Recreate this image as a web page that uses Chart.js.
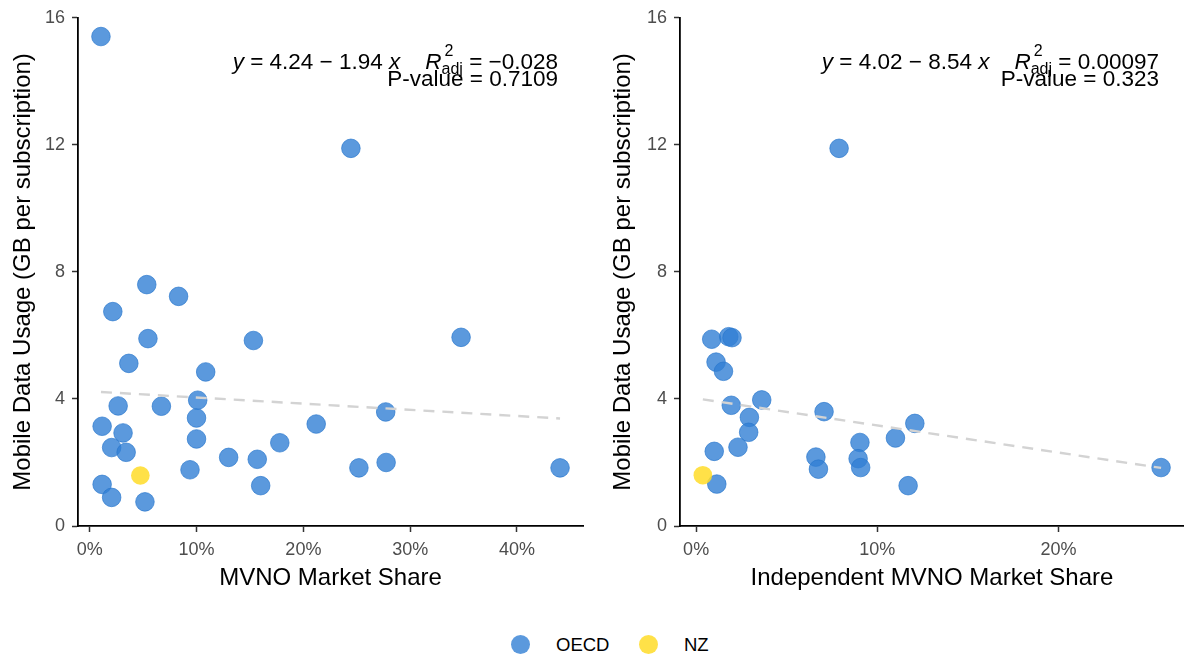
<!DOCTYPE html>
<html>
<head>
<meta charset="utf-8">
<script src="https://cdn.jsdelivr.net/npm/chart.js@4"></script>
<style>
    body { margin: 0; background: #fff; font-family: "Liberation Sans", Arial, sans-serif; }
    #wrap { position: relative; width: 1184px; height: 657px; overflow: hidden; }
    #panelLeft { position: absolute; left: 0; top: 0; }
    #panelRight { position: absolute; left: 600px; top: 0; }
    .legend { position: absolute; top: 633px; left: 0; width: 1184px; height: 24px; }
    .legend .dot { position: absolute; top: 2px; width: 19px; height: 19px; border-radius: 50%; }
    .legend .label { position: absolute; top: 1px; font-size: 18.5px; color: #000; line-height: 22px; }
</style>
</head>
<body>
<div id="wrap">
    <canvas id="panelLeft" width="600" height="600"></canvas>
    <canvas id="panelRight" width="594" height="600"></canvas>
    <div class="legend">
        <span class="dot" style="left:511px; background:rgba(50,128,212,0.8);"></span>
        <span class="label" style="left:556px;">OECD</span>
        <span class="dot" style="left:639px; background:rgba(255,220,40,0.85);"></span>
        <span class="label" style="left:684px;">NZ</span>
    </div>
</div>
<script>
// MVNO market share (%) vs mobile data usage (GB per subscription)
const mvnoShare = [1.04, 24.45, 5.33, 8.31, 2.15, 5.44, 15.32, 34.77, 3.65, 10.85,
    10.10, 2.65, 6.70, 9.99, 27.71, 1.15, 3.11, 21.2, 9.99, 17.79,
    2.04, 3.40, 13.0, 15.68, 27.75, 25.2, 44.04, 9.38, 1.15, 16.0,
    2.04, 5.16];
const mvnoUsage = [15.41, 11.89, 7.60, 7.23, 6.75, 5.90, 5.84, 5.94, 5.12, 4.85,
    3.96, 3.78, 3.77, 3.40, 3.59, 3.14, 2.93, 3.21, 2.74, 2.62,
    2.47, 2.32, 2.16, 2.10, 2.00, 1.83, 1.83, 1.77, 1.31, 1.27,
    0.90, 0.76];

// independent MVNO market share (%) vs usage
const indepShare = [7.89, 0.86, 1.80, 1.98, 1.10, 1.51, 1.94, 3.62, 7.06, 2.94,
    2.90, 12.07, 1.00, 2.31, 9.04, 11.0, 6.61, 6.75, 8.94, 9.08,
    11.70, 1.14, 25.66];
const indepUsage = [11.89, 5.88, 5.96, 5.93, 5.16, 4.87, 3.80, 3.97, 3.60, 3.42,
    2.95, 3.23, 2.35, 2.48, 2.63, 2.77, 2.17, 1.79, 2.12, 1.84,
    1.27, 1.32, 1.84];

// New Zealand
const nzShare = [4.73, 0.37];
const nzUsage = [1.59, 1.60];

// fitted lines (x as a fraction)
const fitIntercept = [4.24, 4.02];
const fitSlope = [-1.94, -8.54];
const fitIntercepText = ['4.24', '4.02'];
const fitSlopeText = ['1.94', '8.54'];
const r2adjText = ['\u22120.028', '0.00097'];
const pValueText = ['0.7109', '0.323'];

const xTickLabels = [[0, 10, 20, 30, 40], [0, 10, 20]];
const yTickLabels = [0, 4, 8, 12, 16];
const xTitles = ['MVNO Market Share', 'Independent MVNO Market Share'];
const yTitle = 'Mobile Data Usage (GB per subscription)';

const blueFill = 'rgba(50,128,212,0.8)';
const yellowFill = 'rgba(255,220,40,0.85)';
const FONT = '"Liberation Sans", Arial, sans-serif';

function toPoints(xs, ys) {
    return xs.map((x, i) => ({ x: x, y: ys[i] }));
}

// draws "y = a − b x   R²adj = r" and "P-value = p", right aligned
const statsLabel = {
    id: 'statsLabel',
    afterDatasetsDraw(chart, args, opts) {
        const ctx = chart.ctx;
        const right = opts.right;
        const base1 = 69;
        const base2 = 86;
        const big = '22.5px ' + FONT;
        const bigIt = 'italic 22.5px ' + FONT;
        const small = '16px ' + FONT;

        const parts = [
            { t: 'y', f: bigIt },
            { t: ' = ' + opts.a + ' \u2212 ' + opts.b + ' ', f: big },
            { t: 'x', f: bigIt },
            { t: '    ', f: big },
            { t: 'R', f: bigIt },
            { sup: '2', sub: 'adj' },
            { t: ' = ' + opts.r2, f: big }
        ];
        ctx.save();
        ctx.fillStyle = '#000';
        ctx.textBaseline = 'alphabetic';
        ctx.textAlign = 'left';
        let widths = parts.map(p => {
            if (p.sup) {
                ctx.font = small;
                return Math.max(ctx.measureText(p.sup).width, ctx.measureText(p.sub).width);
            }
            ctx.font = p.f;
            return ctx.measureText(p.t).width;
        });
        let x = right - widths.reduce((s, w) => s + w, 0);
        parts.forEach((p, i) => {
            if (p.sup) {
                ctx.font = small;
                ctx.fillText(p.sup, x + 3, base1 - 13);
                ctx.fillText(p.sub, x, base1 + 5);
            } else {
                ctx.font = p.f;
                ctx.fillText(p.t, x, base1);
            }
            x += widths[i];
        });
        ctx.font = big;
        ctx.textAlign = 'right';
        ctx.fillText('P-value = ' + opts.p, right, base2);
        ctx.restore();
    }
};

function makePanel(canvasId, idx, xs, ys, xMin, xMax, yAxisWidth, padRight, labelRight) {
    const lo = Math.min(...xs, nzShare[idx]);
    const hi = Math.max(...xs, nzShare[idx]);
    const fitLine = [
        { x: lo, y: fitIntercept[idx] + fitSlope[idx] * lo / 100 },
        { x: hi, y: fitIntercept[idx] + fitSlope[idx] * hi / 100 }
    ];

    new Chart(canvasId, {
        type: 'scatter',
        data: {
            datasets: [
                {
                    type: 'line',
                    data: fitLine,
                    borderColor: '#d3d3d3',
                    borderWidth: 2.4,
                    borderDash: [11, 8],
                    pointRadius: 0,
                    order: 0
                },
                {
                    label: 'NZ',
                    data: [{ x: nzShare[idx], y: nzUsage[idx] }],
                    backgroundColor: yellowFill,
                    borderColor: yellowFill,
                    borderWidth: 0,
                    pointRadius: 9.3,
                    order: 1
                },
                {
                    label: 'OECD',
                    data: toPoints(xs, ys),
                    backgroundColor: blueFill,
                    borderColor: 'rgba(40,118,205,0.85)',
                    borderWidth: 0.8,
                    pointRadius: 9.3,
                    order: 2
                }
            ]
        },
        options: {
            responsive: false,
            animation: false,
            layout: { padding: { top: 17, right: padRight, left: 0, bottom: 0 } },
            plugins: {
                legend: { display: false },
                tooltip: { enabled: false },
                statsLabel: {
                    right: labelRight,
                    a: fitIntercepText[idx],
                    b: fitSlopeText[idx],
                    r2: r2adjText[idx],
                    p: pValueText[idx]
                }
            },
            scales: {
                x: {
                    type: 'linear',
                    min: xMin,
                    max: xMax,
                    afterBuildTicks: axis => { axis.ticks = xTickLabels[idx].map(v => ({ value: v })); },
                    afterFit: scale => {
                        scale.height = 74;
                        scale.paddingLeft = 0;
                        scale.paddingRight = 0;
                    },
                    grid: { drawOnChartArea: false, tickLength: 6, tickColor: '#333', tickWidth: 1.5 },
                    border: { color: '#000', width: 1.8 },
                    ticks: {
                        color: '#4d4d4d',
                        font: { family: FONT, size: 18 },
                        padding: 7,
                        maxRotation: 0,
                        callback: v => v + '%'
                    },
                    title: {
                        display: true,
                        text: xTitles[idx],
                        color: '#000',
                        font: { family: FONT, size: 24 },
                        padding: { top: 0, bottom: 7.5 }
                    }
                },
                y: {
                    min: 0,
                    max: 16,
                    afterBuildTicks: axis => { axis.ticks = yTickLabels.map(v => ({ value: v })); },
                    afterFit: scale => { scale.width = yAxisWidth; },
                    grid: { drawOnChartArea: false, tickLength: 6, tickColor: '#333', tickWidth: 1.5 },
                    border: { color: '#000', width: 1.8 },
                    ticks: {
                        color: '#4d4d4d',
                        font: { family: FONT, size: 18 },
                        padding: 7
                    },
                    title: {
                        display: true,
                        text: yTitle,
                        color: '#000',
                        font: { family: FONT, size: 24 },
                        padding: { top: 9, bottom: 0 }
                    }
                }
            }
        },
        plugins: [statsLabel]
    });
}

makePanel('panelLeft', 0, mvnoShare, mvnoUsage, -1.11, 46.19, 78, 17, 558);
makePanel('panelRight', 1, indepShare, indepUsage, -0.89, 26.92, 80, 0, 559);
</script>
</body>
</html>
